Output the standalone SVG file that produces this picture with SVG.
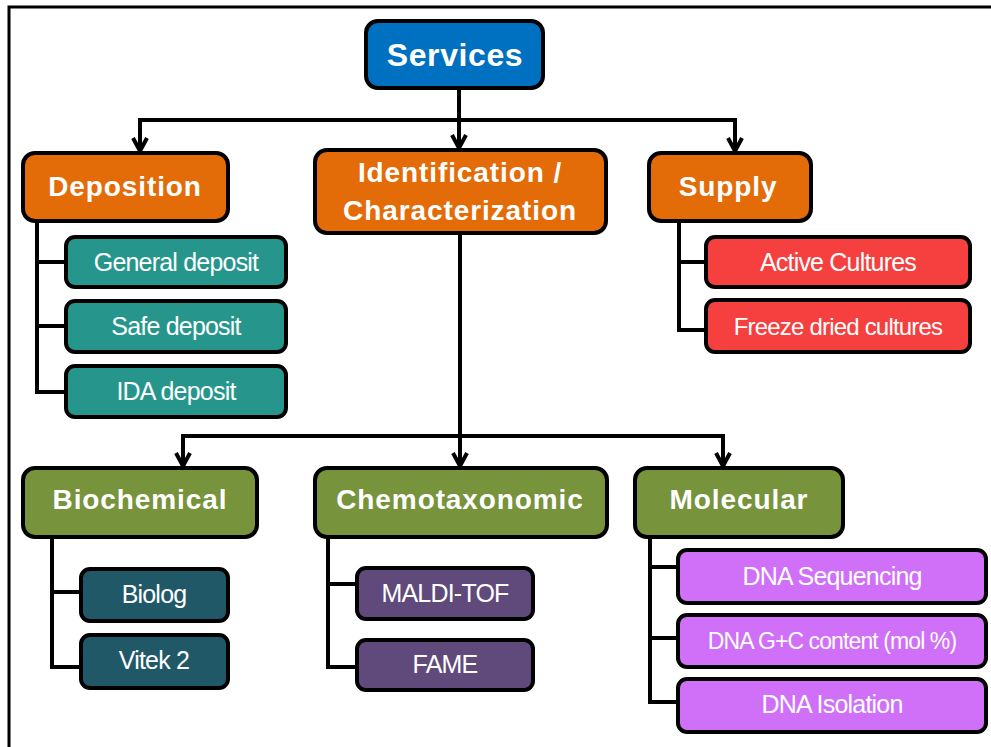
<svg xmlns="http://www.w3.org/2000/svg" width="991" height="747" viewBox="0 0 991 747">
<style>
.box{stroke:#000;stroke-width:4}
.h{font-family:"Liberation Sans",Arial,sans-serif;font-weight:bold;font-size:28px;fill:#fff;text-anchor:middle;letter-spacing:0.9px}
.t{font-family:"Liberation Sans",Arial,sans-serif;font-size:25px;fill:#fff;text-anchor:middle;letter-spacing:-0.8px}
.or{fill:#E36C09}.te{fill:#26968C}.rd{fill:#F5403F}.gr{fill:#77933C}.dt{fill:#215868}.pu{fill:#604A7B}.pk{fill:#D070F8}
.ln{fill:none;stroke:#000;stroke-width:4}
</style>
<defs>
<marker id="arr" markerUnits="userSpaceOnUse" markerWidth="30" markerHeight="30" refX="0" refY="0" orient="auto" overflow="visible">
<path d="M-13,-7 L0,0 L-13,7" fill="none" stroke="#000" stroke-width="4"/>
</marker>
</defs>
<rect width="991" height="747" fill="#fff"/>
<path d="M9,750 V7 H995" fill="none" stroke="#000" stroke-width="3"/>
<g id="connectors">
<path class="ln" d="M459,88 V148" marker-end="url(#arr)"/>
<path class="ln" d="M140,151 V120 H735 V151" />
<path class="ln" d="M140,120 V151" marker-end="url(#arr)"/>
<path class="ln" d="M735,120 V151" marker-end="url(#arr)"/>
<path class="ln" d="M460,233 V466" marker-end="url(#arr)"/>
<path class="ln" d="M183,466 V436 H723 V466"/>
<path class="ln" d="M183,436 V466" marker-end="url(#arr)"/>
<path class="ln" d="M723,436 V466" marker-end="url(#arr)"/>
<path class="ln" d="M37,221 V392 H66 M37,262 H66 M37,326 H66"/>
<path class="ln" d="M679,221 V330 H706 M679,262 H706"/>
<path class="ln" d="M52,537 V667 H81 M52,592 H81"/>
<path class="ln" d="M328,537 V667 H357 M328,584 H357"/>
<path class="ln" d="M650,537 V702 H678 M650,567 H678 M650,638 H678"/>
</g>
<g id="services"><rect class="box" x="366" y="21" width="177" height="67" rx="12" fill="#0070C0"/><text class="h" x="455" y="66" style="font-size:32px;letter-spacing:0.6px">Services</text></g>
<g id="deposition"><rect class="box or" x="23" y="153" width="205" height="68" rx="12"/><text class="h" x="125" y="196">Deposition</text></g>
<g id="identification"><rect class="box or" x="315" y="150" width="291" height="83" rx="12"/><text class="h" x="460" y="182">Identification /</text><text class="h" x="460" y="220">Characterization</text></g>
<g id="supply"><rect class="box or" x="649" y="153" width="162" height="68" rx="12"/><text class="h" x="728" y="196">Supply</text></g>
<g id="general-deposit"><rect class="box te" x="66" y="237" width="220" height="50" rx="9"/><text class="t" x="176" y="271">General deposit</text></g>
<g id="safe-deposit"><rect class="box te" x="66" y="301" width="220" height="51" rx="9"/><text class="t" x="176" y="335">Safe deposit</text></g>
<g id="ida-deposit"><rect class="box te" x="66" y="366" width="220" height="51" rx="9"/><text class="t" x="176" y="400">IDA deposit</text></g>
<g id="active-cultures"><rect class="box rd" x="706" y="237" width="264" height="50" rx="9"/><text class="t" x="838" y="271">Active Cultures</text></g>
<g id="freeze-dried"><rect class="box rd" x="706" y="300" width="264" height="52" rx="9"/><text class="t" x="838" y="335" style="font-size:24px">Freeze dried cultures</text></g>
<g id="biochemical"><rect class="box gr" x="23" y="468" width="234" height="69" rx="12"/><text class="h" x="140" y="509">Biochemical</text></g>
<g id="chemotaxonomic"><rect class="box gr" x="315" y="468" width="292" height="69" rx="12"/><text class="h" x="460" y="509">Chemotaxonomic</text></g>
<g id="molecular"><rect class="box gr" x="635" y="468" width="208" height="69" rx="12"/><text class="h" x="739" y="509">Molecular</text></g>
<g id="biolog"><rect class="box dt" x="81" y="569" width="147" height="52" rx="9"/><text class="t" x="154" y="603">Biolog</text></g>
<g id="vitek2"><rect class="box dt" x="81" y="635" width="147" height="53" rx="9"/><text class="t" x="154" y="669">Vitek 2</text></g>
<g id="maldi-tof"><rect class="box pu" x="357" y="568" width="176" height="51" rx="9"/><text class="t" x="445" y="602">MALDI-TOF</text></g>
<g id="fame"><rect class="box pu" x="357" y="640" width="176" height="50" rx="9"/><text class="t" x="445" y="673">FAME</text></g>
<g id="dna-sequencing"><rect class="box pk" x="678" y="550" width="308" height="53" rx="9"/><text class="t" x="832" y="585">DNA Sequencing</text></g>
<g id="dna-gc"><rect class="box pk" x="678" y="615" width="308" height="52" rx="9"/><text class="t" x="832" y="649" style="font-size:23px;letter-spacing:-0.9px">DNA G+C content (mol %)</text></g>
<g id="dna-isolation"><rect class="box pk" x="678" y="679" width="308" height="53" rx="9"/><text class="t" x="832" y="713">DNA Isolation</text></g>
</svg>
